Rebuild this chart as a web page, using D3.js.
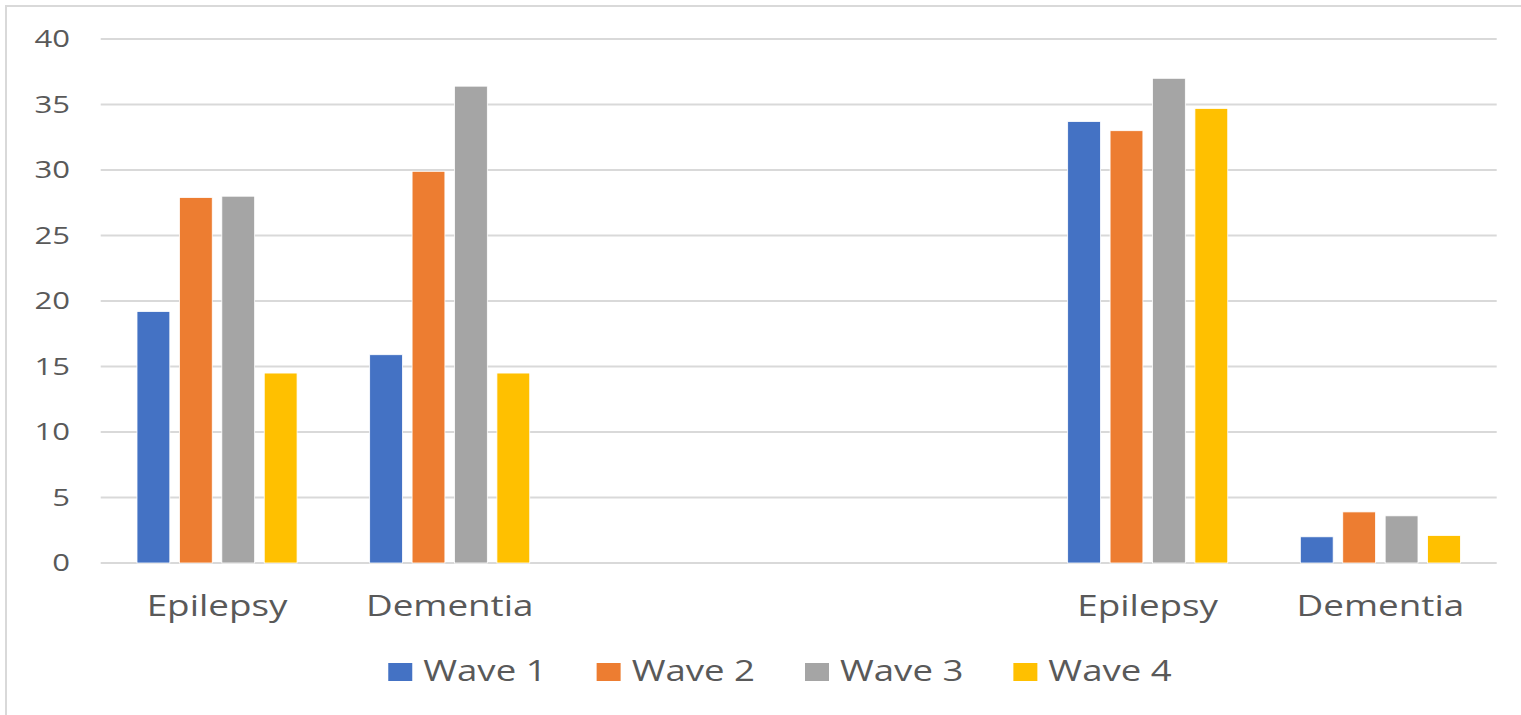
<!DOCTYPE html>
<html>
<head>
<meta charset="utf-8">
<script src="https://cdn.jsdelivr.net/npm/d3@7"></script>
<style>
  html, body { margin: 0; padding: 0; background: #ffffff; }
  svg { display: block; }
  text { font-family: "Open Sans", "Noto Sans", sans-serif; fill: #595959; }
</style>
</head>
<body>
<svg id="chart" width="1521" height="715"></svg>
<script>
// ---- data ----
const categories = ["Epilepsy", "Dementia", " ", "  ", "Epilepsy ", "Dementia "];
const categoryLabels = ["Epilepsy", "Dementia", "", "", "Epilepsy", "Dementia"];
const seriesNames = ["Wave 1", "Wave 2", "Wave 3", "Wave 4"];
const wave1 = [19.2, 15.9, null, null, 33.7, 2.0];
const wave2 = [27.9, 29.9, null, null, 33.0, 3.9];
const wave3 = [28.0, 36.4, null, null, 37.0, 3.6];
const wave4 = [14.5, 14.5, null, null, 34.7, 2.1];
const yTicks = [0, 5, 10, 15, 20, 25, 30, 35, 40];
const colors = ["#4472C4", "#ED7D31", "#A5A5A5", "#FFC000"];

const seriesValues = [wave1, wave2, wave3, wave4];

// ---- layout ----
const svg = d3.select("#chart");
const plot = { left: 100.7, right: 1496.7, top: 39, bottom: 563 };

// chart border
svg.append("rect")
  .attr("x", 6).attr("y", 6)
  .attr("width", 1540).attr("height", 740)
  .attr("fill", "none").attr("stroke", "#d9d9d9").attr("stroke-width", 2);

const y = d3.scaleLinear().domain([0, 40]).range([plot.bottom, plot.top]);
const x0 = d3.scaleBand().domain(categories).range([plot.left, plot.right]).padding(0);
const groupW = x0.bandwidth() * 0.688;
const x1 = d3.scaleBand().domain(seriesNames).range([0, groupW]).paddingInner(0.226).paddingOuter(0);

// gridlines
svg.append("g").selectAll("line").data(yTicks).join("line")
  .attr("x1", plot.left).attr("x2", plot.right)
  .attr("y1", d => y(d)).attr("y2", d => y(d))
  .attr("stroke", "#d9d9d9").attr("stroke-width", 2);

// y tick labels (stretched horizontally like the reference)
const yLab = svg.append("g").selectAll("g").data(yTicks).join("g")
  .attr("transform", d => `translate(70,${y(d)}) scale(1.35,1)`);
yLab.append("text")
  .attr("text-anchor", "end")
  .attr("dy", "0.35em")
  .style("font-size", "23px")
  .text(d => d);

// bars
const groups = svg.append("g").selectAll("g").data(categories).join("g")
  .attr("transform", d => `translate(${x0(d) + (x0.bandwidth() - groupW) / 2},0)`);
groups.selectAll("rect")
  .data((c, i) => seriesNames.map((s, k) => ({ s, k, v: seriesValues[k][i] })).filter(d => d.v != null))
  .join("rect")
  .attr("x", d => x1(d.s))
  .attr("width", x1.bandwidth())
  .attr("y", d => y(d.v))
  .attr("height", d => y(0) - y(d.v))
  .attr("fill", d => colors[d.k])
  .attr("stroke", "#ffffff").attr("stroke-width", 0.8);

// category labels
const cLab = svg.append("g").selectAll("g").data(categories).join("g")
  .attr("transform", d => `translate(${x0(d) + x0.bandwidth() / 2},616) scale(1.27,1)`);
cLab.append("text")
  .attr("text-anchor", "middle")
  .style("font-size", "29px")
  .text((d, i) => categoryLabels[i]);

// legend
const legendScale = 1.22;
const legend = svg.append("g");
const items = legend.selectAll("g").data(seriesNames).join("g");
items.append("rect")
  .attr("x", 0).attr("y", 663).attr("width", 24).attr("height", 18)
  .attr("fill", (d, i) => colors[i]);
items.append("g")
  .attr("transform", `translate(35,681) scale(${legendScale},1)`)
  .append("text")
  .style("font-size", "30px")
  .text(d => d);
const widths = [];
items.each(function () {
  widths.push(d3.select(this).select("text").node().getComputedTextLength() * legendScale);
});
const gapBetween = 50;
let offs = [], acc = 0;
widths.forEach((w, i) => { offs.push(acc); acc += 35 + w + gapBetween; });
const totalW = acc - gapBetween;
const legendCenter = 780;
items.attr("transform", (d, i) => `translate(${legendCenter - totalW / 2 + offs[i]},0)`);
</script>
</body>
</html>
